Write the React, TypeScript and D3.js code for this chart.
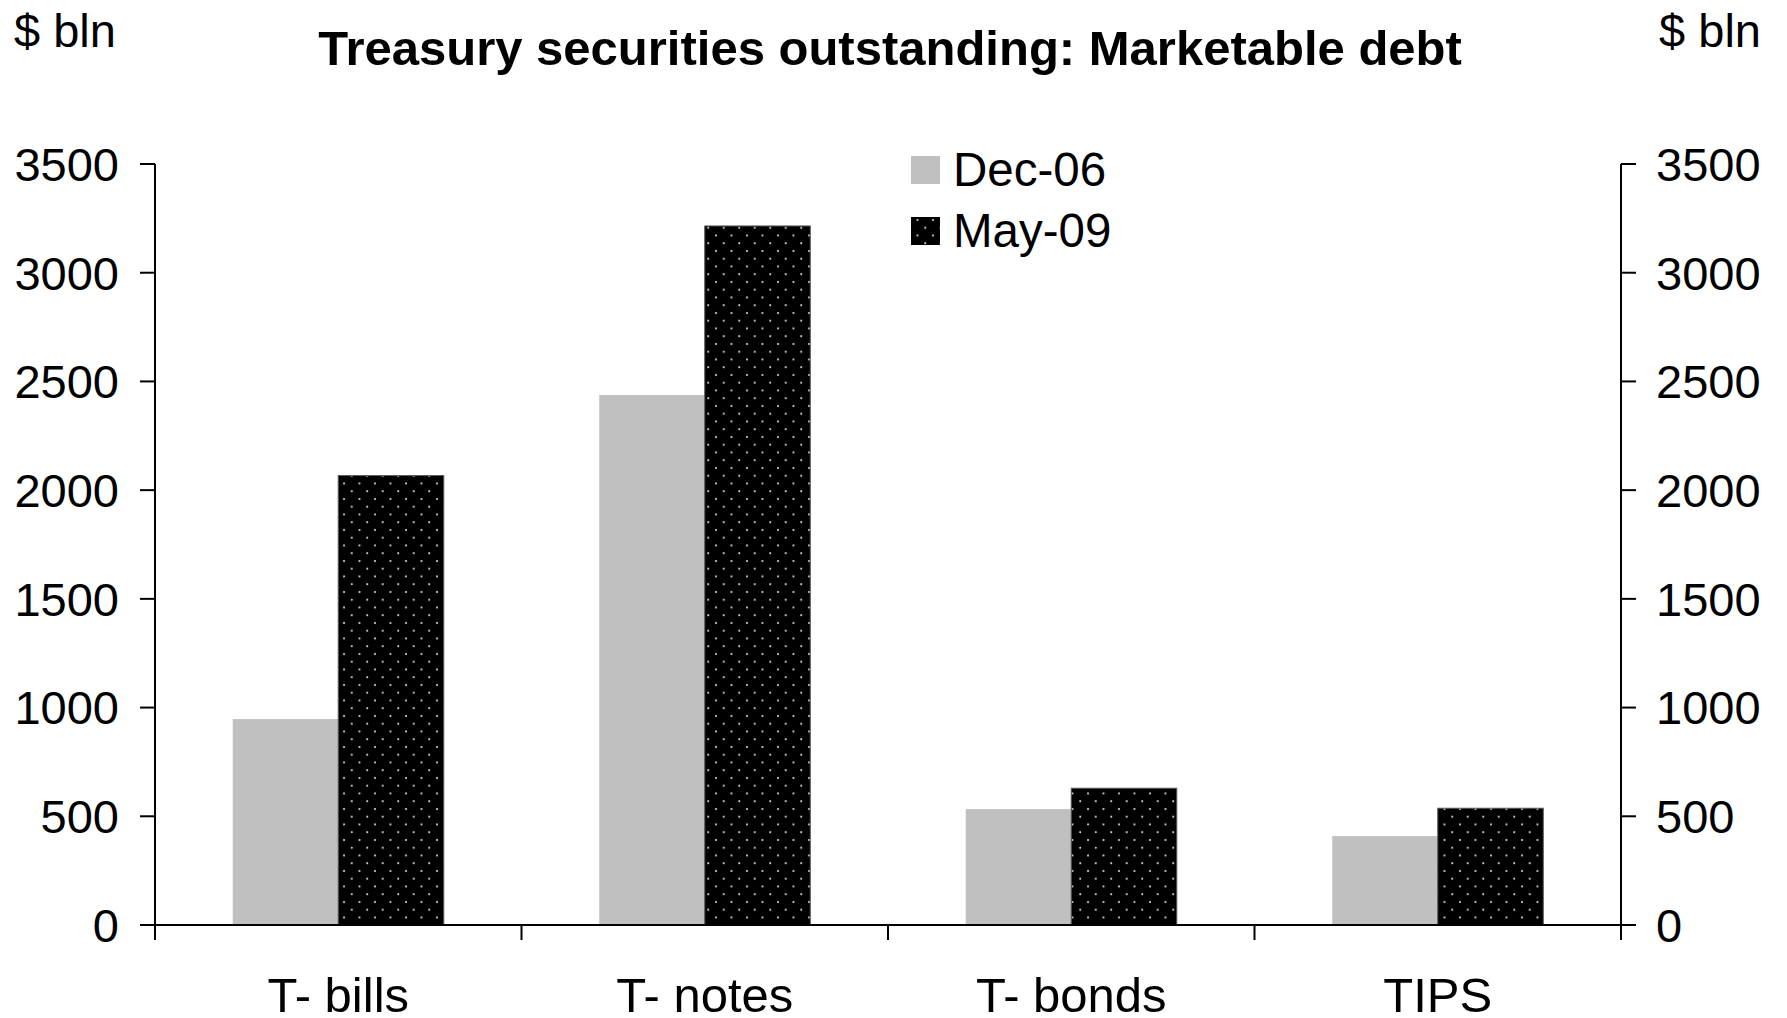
import React from "react";
import * as d3 from "d3";

const categories = ["T- bills", "T- notes", "T- bonds", "TIPS"];
const seriesNames = ["Dec-06", "May-09"];
const dec06 = [947, 2438, 533, 409];
const may09 = [2067, 3215, 629, 537];
const yTicks = [0, 500, 1000, 1500, 2000, 2500, 3000, 3500];

const W = 1787;
const H = 1018;
const left = 155;
const right = 1621;
const top = 164;
const bottom = 925;
const FONT = "'Liberation Sans', Arial, sans-serif";
const FS = 47;

export default function App() {
  const x = d3.scaleBand<string>().domain(categories).range([left, right]).paddingInner(0).paddingOuter(0);
  const x1 = d3.scaleBand<string>().domain(seriesNames).range([0, x.bandwidth()]).paddingOuter(0.7368).paddingInner(0);
  const y = d3.scaleLinear().domain([0, 3500]).range([bottom, top]);
  const values = [dec06, may09];
  const fills = ["#c0c0c0", "url(#dots)"];
  const boundaries = d3.range(categories.length + 1).map((i) => left + i * x.step());

  return (
    <svg width={W} height={H} style={{ display: "block", position: "absolute", left: 0, top: 0, background: "#fff" }}>
      <defs>
        <pattern id="dots" patternUnits="userSpaceOnUse" width={15.5} height={15.5}>
          <rect width={15.5} height={15.5} fill="#000" />
          <circle cx={3} cy={3} r={1} fill="#e8e8e8" />
          <circle cx={10.75} cy={10.75} r={1} fill="#e8e8e8" />
        </pattern>
      </defs>
      <text x={890} y={65} textAnchor="middle" fontFamily={FONT} fontWeight="bold" fontSize={49}>
        Treasury securities outstanding: Marketable debt
      </text>
      <text x={14} y={47} fontFamily={FONT} fontSize={FS}>$ bln</text>
      <text x={W - 26} y={47} textAnchor="end" fontFamily={FONT} fontSize={FS}>$ bln</text>

      {categories.map((c, ci) =>
        seriesNames.map((s, si) => (
          <rect
            key={c + s}
            x={(x(c) as number) + (x1(s) as number)}
            y={y(values[si][ci])}
            width={x1.bandwidth()}
            height={bottom - y(values[si][ci])}
            fill={fills[si]}
            stroke={si === 1 ? "#555" : "none"}
            strokeWidth={si === 1 ? 1 : 0}
          />
        ))
      )}

      {/* axes */}
      <line x1={left} x2={left} y1={top} y2={bottom + 15} stroke="#000" strokeWidth={2} />
      <line x1={right} x2={right} y1={top} y2={bottom + 15} stroke="#000" strokeWidth={2} />
      <line x1={left - 15} x2={right + 15} y1={bottom} y2={bottom} stroke="#000" strokeWidth={2} />
      {boundaries.map((bx, i) => (
        <line key={"bt" + i} x1={bx} x2={bx} y1={bottom} y2={bottom + 15} stroke="#000" strokeWidth={2} />
      ))}
      {yTicks.map((t) => (
        <g key={"yt" + t}>
          <line x1={left - 15} x2={left} y1={y(t)} y2={y(t)} stroke="#000" strokeWidth={2} />
          <line x1={right} x2={right + 15} y1={y(t)} y2={y(t)} stroke="#000" strokeWidth={2} />
          <text x={119} y={y(t)} dy="0.36em" textAnchor="end" fontFamily={FONT} fontSize={FS}>{t}</text>
          <text x={1656} y={y(t)} dy="0.36em" textAnchor="start" fontFamily={FONT} fontSize={FS}>{t}</text>
        </g>
      ))}
      {categories.map((c) => (
        <text key={"cl" + c} x={(x(c) as number) + x.bandwidth() / 2} y={1012} textAnchor="middle" fontFamily={FONT} fontSize={49}>
          {c}
        </text>
      ))}

      {/* legend */}
      {seriesNames.map((s, i) => (
        <g key={"lg" + s}>
          <rect x={911} y={156 + i * 61} width={29} height={28} fill={fills[i]} />
          <text x={953} y={186 + i * 61} fontFamily={FONT} fontSize={47.5}>{s}</text>
        </g>
      ))}
    </svg>
  );
}
